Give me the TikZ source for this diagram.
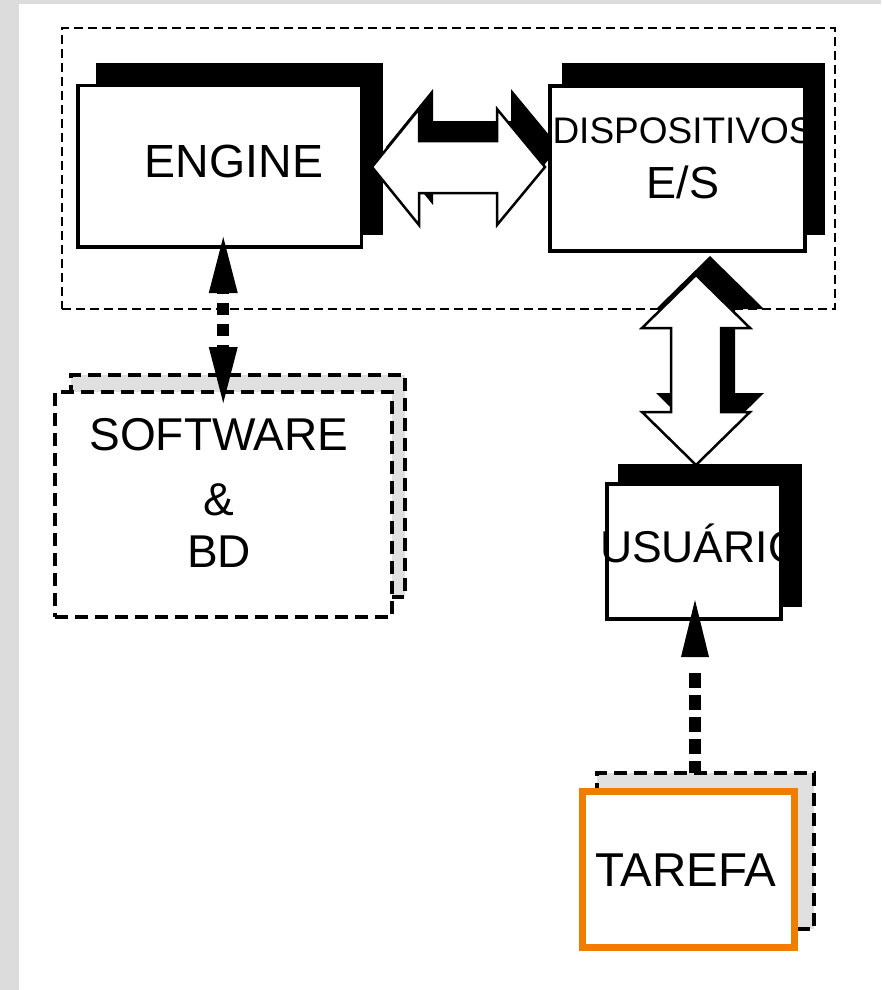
\documentclass[tikz,border=0pt]{standalone}
\usepackage{fontspec}
\setmainfont{Liberation Sans}
\usetikzlibrary{calc}
\definecolor{slidegrey}{RGB}{220,220,220}
\definecolor{midgrey}{RGB}{250,250,250}
\definecolor{shadegrey}{RGB}{224,224,224}
\definecolor{tarefaorange}{RGB}{238,125,0}
\begin{document}
\begin{tikzpicture}[x=1pt,y=-1pt,
  every node/.style={inner sep=0pt, outer sep=0pt},
  shadowfill/.style={fill=black, draw=none},
  solidbox/.style={draw=black, fill=white, line width=3.5pt},
  groupdash/.style={draw=black, line width=2pt, dash pattern=on 9pt off 5pt},
  boxdash/.style={draw=black, line width=3.5pt, dash pattern=on 13pt off 7pt},
  backdash/.style={boxdash, fill=shadegrey},
  frontdash/.style={boxdash, fill=white},
  taskbox/.style={draw=tarefaorange, fill=white, line width=7pt},
  blockarrow/.style={draw=black, fill=white, line width=2.5pt, line join=miter},
  dotshaft/.style={draw=black, line width=12pt},
  dothead/.style={fill=black, draw=none},
  bigtext/.style={font=\fontsize{46}{55}\selectfont},
]
\path[use as bounding box] (0,0) rectangle (881,990);
% slide background
\fill[slidegrey] (0,0) rectangle (881,990);
\shade[top color=slidegrey, middle color=midgrey, bottom color=slidegrey] (0,4) rectangle (19,990);
\fill[white] (19,4) rectangle (881,990);

% group frame
\node[groupdash, minimum width=773pt, minimum height=281pt] (group) at (448.5,168.5) {};

% ENGINE
\node[shadowfill, minimum width=287pt, minimum height=172pt] (engine-sh) at (239.5,149) {};
\node[solidbox, minimum width=283.5pt, minimum height=161.5pt] (engine) at (219.75,166.25) {};
\node[anchor=base, font=\fontsize{46.5}{55}\selectfont] (engine-t) at (234,177) {ENGINE};

% horizontal block arrow ENGINE <-> DISPOSITIVOS
\coordinate (ed-l) at ($(engine.east)+(10.5,0.75)$);
\coordinate (disp-w) at (548,168.5);
\coordinate (ed-r) at ($(disp-w)+(-3,-1.5)$);
\coordinate (ed-ls) at ($(ed-l)+(14,-20)$);
\coordinate (ed-rs) at ($(ed-r)+(14,-20)$);
\foreach \a/\b/\s in {ed-ls/ed-rs/shadowfill, ed-l/ed-r/blockarrow}{
  \path[\s] (\a) -- ($(\a)+(47,-58)$) -- ($(\a)+(47,-26)$) -- ($(\b)+(-48,-26)$)
    -- ($(\b)+(-48,-58)$) -- (\b) -- ($(\b)+(-48,58)$) -- ($(\b)+(-48,26)$)
    -- ($(\a)+(47,26)$) -- ($(\a)+(47,58)$) -- cycle;
}

% DISPOSITIVOS E/S
\node[shadowfill, minimum width=263pt, minimum height=172pt] (disp-sh) at (693.5,149) {};
\node[solidbox, minimum width=255pt, minimum height=165pt] (disp) at (677.5,168.5) {};
\begin{scope}
  \clip (disp.north west) rectangle (disp.south east);
  \node[anchor=base west, font=\fontsize{37}{44}\selectfont] (disp-t1) at (552.5,143) {DISPOSITIVOS};
\end{scope}
\node[anchor=base, font=\fontsize{45}{54}\selectfont] (disp-t2) at (683,198) {E/S};

% USUARIO
\node[shadowfill, minimum width=184pt, minimum height=143pt] (usu-sh) at (710,535.5) {};
\node[solidbox, minimum width=174pt, minimum height=135pt] (usu) at (694,551.5) {};
\begin{scope}
  \clip ($(usu.north west)+(-10,0)$) rectangle (usu.south east);
  \node[anchor=base west, font=\fontsize{44.5}{54}\selectfont] (usu-t) at (600,562) {USUÁRIO};
\end{scope}

% vertical block arrow DISPOSITIVOS <-> USUARIO
\coordinate (du-t) at ($(disp.south)+(18.5,24)$);
\coordinate (du-b) at ($(du-t |- usu-sh.north)+(0,1)$);
\coordinate (du-ts) at ($(du-t)+(14,-19)$);
\coordinate (du-bs) at ($(du-b)+(14,-19)$);
\foreach \a/\b/\s in {du-ts/du-bs/shadowfill, du-t/du-b/blockarrow}{
  \path[\s] (\a) -- ($(\a)+(54,53)$) -- ($(\a)+(25,53)$) -- ($(\b)+(25,-53)$)
    -- ($(\b)+(54,-53)$) -- (\b) -- ($(\b)+(-54,-53)$) -- ($(\b)+(-25,-53)$)
    -- ($(\a)+(-25,53)$) -- ($(\a)+(-54,53)$) -- cycle;
}

% SOFTWARE & BD
\node[backdash, minimum width=334pt, minimum height=222pt] (sw-back) at (238,486) {};
\node[frontdash, minimum width=337pt, minimum height=225pt] (sw) at (223.5,504.5) {};
\node[bigtext, anchor=base] (sw-t1) at (219,450) {SOFTWARE};
\node[bigtext, anchor=base] (sw-t2) at (219,515) {\&};
\node[bigtext, anchor=base] (sw-t3) at (219,567) {BD};

% TAREFA
\node[backdash, minimum width=217pt, minimum height=156pt] (task-back) at (705.5,851) {};
\node[taskbox, minimum width=212pt, minimum height=156pt] (task) at (688,869) {};
\node[anchor=base west, font=\fontsize{47.5}{56}\selectfont] (task-t) at (595,886) {TAREFA};

% dotted arrow ENGINE <-> SOFTWARE
\coordinate (es-t) at ($(engine.south)+(3.5,-10)$);
\coordinate (es-b) at ($(es-t |- sw.north)+(0,11)$);
\fill[dothead] (es-t) -- ($(es-t)+(-14.5,56)$) -- ($(es-t)+(14.5,56)$) -- cycle;
\fill[dothead] (es-b) -- ($(es-b)+(-14.5,-56)$) -- ($(es-b)+(14.5,-56)$) -- cycle;
\draw[dotshaft, dash pattern=on 12pt off 9pt, dash phase=11pt] ($(es-t)+(0,56)$) -- ($(es-b)+(0,-56)$);

% dotted arrow TAREFA -> USUARIO
\coordinate (ut-t) at ($(usu.south)+(1,-19)$);
\coordinate (ut-b) at (ut-t |- task-back.north);
\fill[dothead] (ut-t) -- ($(ut-t)+(-14,57)$) -- ($(ut-t)+(14,57)$) -- cycle;
\draw[dotshaft, dash pattern=on 15pt off 7pt, dash phase=15pt] ($(ut-t)+(0,66)$) -- (ut-b);
\end{tikzpicture}
\end{document}
